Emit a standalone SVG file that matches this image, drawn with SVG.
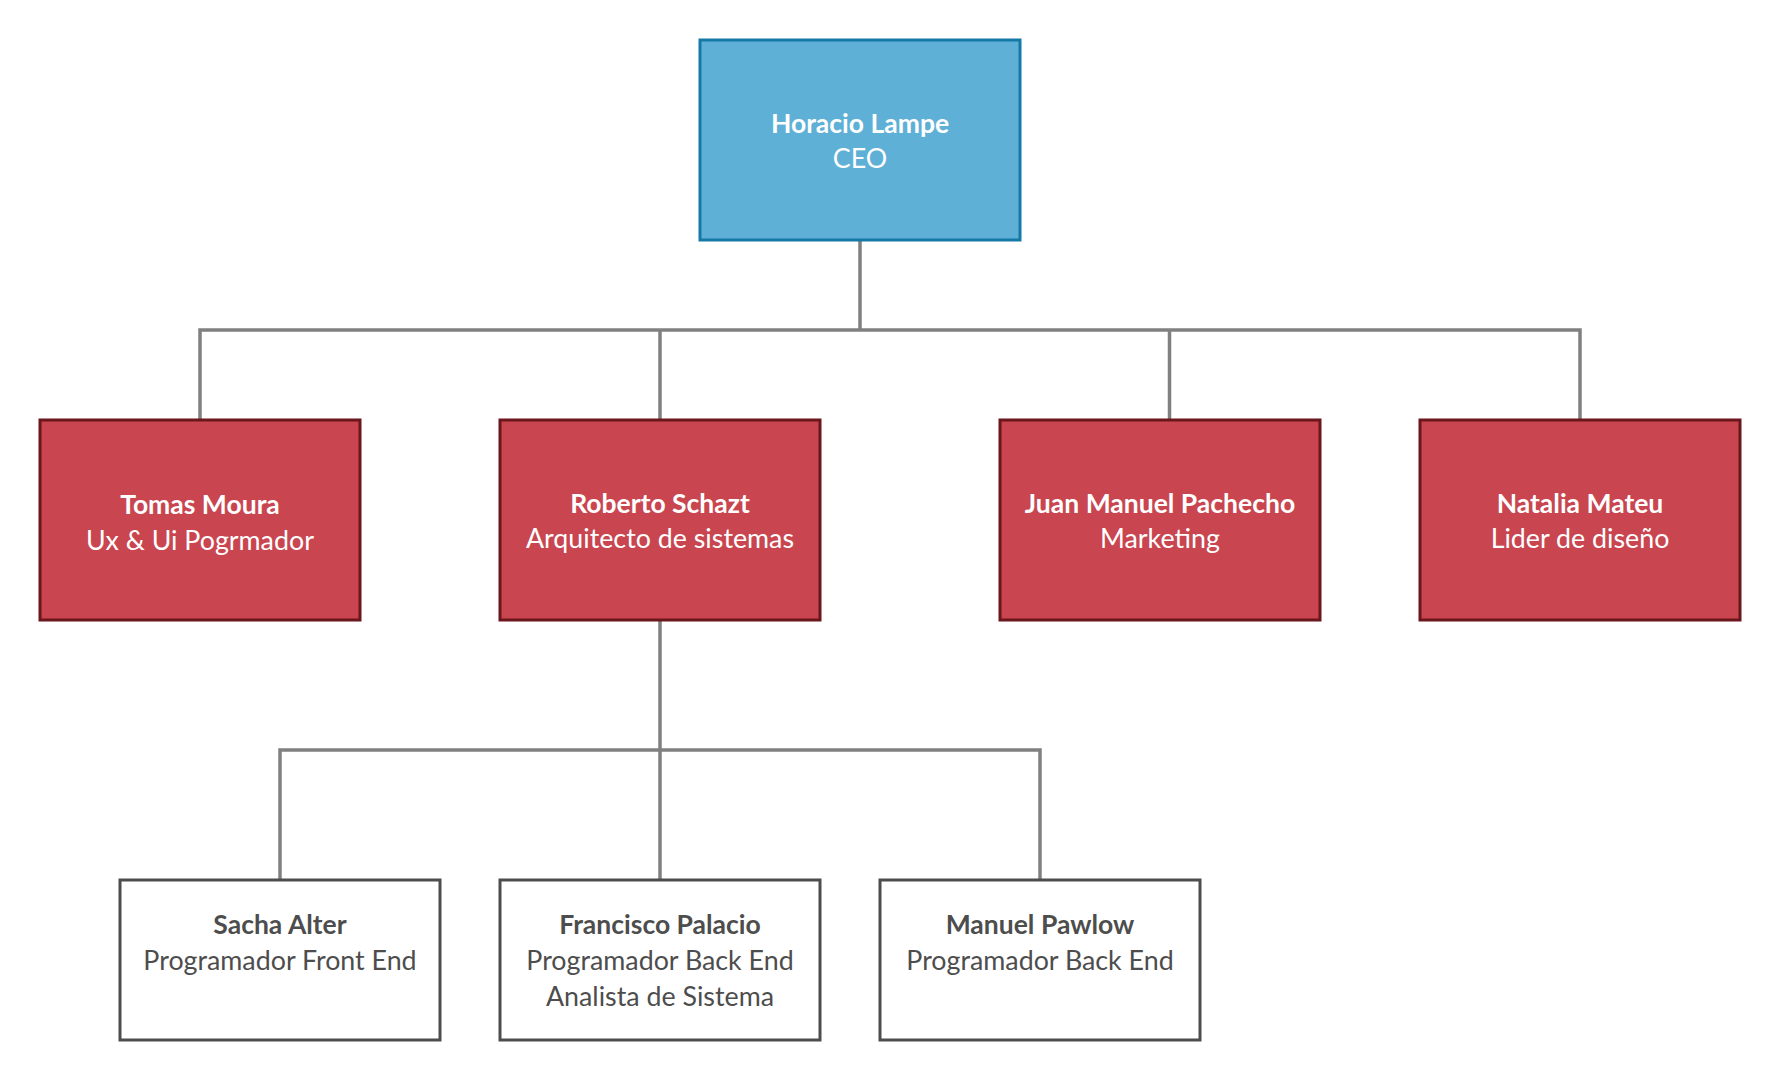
<svg xmlns="http://www.w3.org/2000/svg" width="1780" height="1080" viewBox="0 0 1780 1080">
<style>
.ceo{fill:#5fb0d6;stroke:#1479a6;stroke-width:3}
.red{fill:#c9454f;stroke:#6a161c;stroke-width:3}
.wht{fill:#ffffff;stroke:#4d4d4d;stroke-width:3}
text{font-family:Lato,"Open Sans","Liberation Sans",sans-serif;font-size:26.8px;text-anchor:middle}
.n{font-weight:bold;font-size:26.5px}
.lt{fill:#ffffff}
.dk{fill:#4d4d4d}
.c{fill:none;stroke:#808080;stroke-width:3.5}
</style>
<rect width="1780" height="1080" fill="#ffffff"/>
<g id="connectors">
<path class="c" d="M860 240V330M200 420V330H1580V420M660 330V420M1169.5 330V420"/>
<path class="c" d="M660 620V880M280 880V750H1040V880"/>
</g>
<g id="node-horacio">
<rect class="ceo" x="700" y="40" width="320" height="200"/>
<text class="n lt" x="860" y="132.5">Horacio Lampe</text>
<text class="lt" x="860" y="167.5">CEO</text>
</g>
<g id="node-tomas">
<rect class="red" x="40" y="420" width="320" height="200"/>
<text class="n lt" x="200" y="513.5">Tomas Moura</text>
<text class="lt" x="200" y="549.5">Ux &amp; Ui Pogrmador</text>
</g>
<g id="node-roberto">
<rect class="red" x="500" y="420" width="320" height="200"/>
<text class="n lt" x="660" y="512.5">Roberto Schazt</text>
<text class="lt" x="660" y="547.5">Arquitecto de sistemas</text>
</g>
<g id="node-juan">
<rect class="red" x="1000" y="420" width="320" height="200"/>
<text class="n lt" x="1160" y="512.5">Juan Manuel Pachecho</text>
<text class="lt" x="1160" y="547.5">Marketing</text>
</g>
<g id="node-natalia">
<rect class="red" x="1420" y="420" width="320" height="200"/>
<text class="n lt" x="1580" y="512.5">Natalia Mateu</text>
<text class="lt" x="1580" y="547.5">Lider de diseño</text>
</g>
<g id="node-sacha">
<rect class="wht" x="120" y="880" width="320" height="160"/>
<text class="n dk" x="280" y="933.5">Sacha Alter</text>
<text class="dk" x="280" y="970">Programador Front End</text>
</g>
<g id="node-francisco">
<rect class="wht" x="500" y="880" width="320" height="160"/>
<text class="n dk" x="660" y="933.5">Francisco Palacio</text>
<text class="dk" x="660" y="970">Programador Back End</text>
<text class="dk" x="660" y="1006">Analista de Sistema</text>
</g>
<g id="node-manuel">
<rect class="wht" x="880" y="880" width="320" height="160"/>
<text class="n dk" x="1040" y="933.5">Manuel Pawlow</text>
<text class="dk" x="1040" y="970">Programador Back End</text>
</g>
</svg>
